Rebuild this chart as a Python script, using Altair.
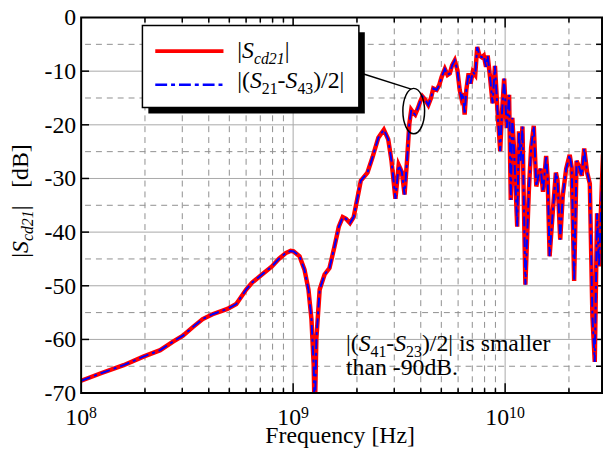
import altair as alt
import pandas as pd

FONT = "Liberation Serif"

# ---------------- data ----------------
freq_ghz = [0.100, 0.124, 0.1586, 0.1966, 0.236, 0.2714, 0.3021, 0.3363, 0.3745, 0.4169,
            0.4897, 0.5393, 0.6004, 0.6406, 0.7128, 0.794, 0.8557, 0.9227, 0.9734, 1.005,
            1.072, 1.131, 1.181, 1.220, 1.250, 1.264, 1.287, 1.334, 1.407, 1.484,
            1.567, 1.642, 1.714, 1.776, 1.854, 1.929, 2.014, 2.086, 2.242, 2.366,
            2.523, 2.679, 2.809, 2.910, 3.038, 3.147, 3.258, 3.354, 3.445, 3.531,
            3.607, 3.697, 3.765, 3.876, 3.972, 4.072, 4.192, 4.342, 4.470, 4.582,
            4.753, 4.887, 5.015, 5.196, 5.349, 5.483, 5.621, 5.785, 5.955, 6.105,
            6.218, 6.325, 6.441, 6.560, 6.725, 6.871, 7.042, 7.226, 7.384, 7.568,
            7.757, 7.925, 8.128, 8.270, 8.486, 8.726, 8.954, 9.207, 9.478, 9.652,
            9.893, 10.18, 10.44, 10.63, 10.81, 11.01, 11.40, 11.62, 11.84, 12.07,
            12.46, 12.94, 13.26, 13.65, 14.03, 14.40, 14.72, 15.09, 15.61, 15.87,
            16.21, 16.80, 17.35, 17.67, 18.19, 18.70, 19.40, 20.16, 20.60, 21.16,
            21.73, 22.37, 22.98, 23.60, 24.37, 25.09, 25.80, 26.47, 27.14, 27.73,
            28.42, 28.94]
s_cd21_db = [-67.7, -66.3, -64.8, -63.2, -62.0, -60.4, -59.3, -57.7, -56.2, -55.3,
             -54.3, -53.4, -50.7, -49.4, -47.9, -46.4, -45.0, -43.9, -43.5, -43.6,
             -44.5, -47.0, -50.7, -56.2, -64.8, -75.0, -59.9, -50.7, -47.9, -46.7,
             -42.7, -39.0, -37.2, -37.5, -38.3, -37.2, -33.5, -30.4, -28.9, -26.1,
             -22.4, -20.9, -22.7, -26.7, -33.8, -27.5, -28.8, -33.0, -26.7, -19.9,
             -17.2, -17.8, -18.1, -16.9, -15.7, -14.7, -15.3, -16.3, -15.0, -13.2,
             -13.5, -12.6, -11.1, -9.6, -10.7, -10.4, -8.9, -8.0, -9.8, -13.5,
             -15.0, -14.1, -18.1, -13.5, -10.4, -12.3, -10.1, -10.7, -5.5, -7.1,
             -7.4, -7.1, -9.2, -7.1, -11.1, -16.0, -9.0, -17.5, -24.9, -18.1,
             -11.4, -20.6, -14.4, -34.0, -18.7, -24.3, -39.0, -21.2, -26.7, -20.3,
             -49.8, -32.2, -24.3, -20.2, -31.5, -29.2, -28.2, -32.5, -25.8, -29.8,
             -44.5, -35.9, -28.9, -30.4, -41.4, -33.2, -28.2, -25.6, -27.9, -49.1,
             -26.7, -27.9, -29.5, -24.4, -28.9, -31.0, -55.6, -64.2, -36.5, -46.4,
             -34.1, -25.5]
s21_s43_db = list(s_cd21_db)   # the two curves coincide

y_ticks = [-70, -60, -50, -40, -30, -20, -10, 0]
y_tick_labels = ["-70", "-60", "-50", "-40", "-30", "-20", "-10", "0"]
y_major_grid = [-60, -50, -40, -30, -20, -10]
y_minor_grid = [-65, -55, -45, -35, -25, -15, -5]
y_right_ticks = [-65, -60, -55, -50, -45, -40, -35, -30, -25, -20, -15, -10, -5]
x_decades = [1e8, 1e9, 1e10]
x_exponents = ["8", "9", "10"]
x_major_grid = [1e9, 1e10]
x_minor_grid = [m * 1e8 for m in range(2, 10)] + [m * 1e9 for m in range(2, 10)] + [2e10]

# ---------------- layout ----------------
W, H = 527, 380
xs = alt.Scale(type="log", domain=[1e8, 2.864e10])
ys = alt.Scale(domain=[-70, 0])
one = pd.DataFrame({"a": [0]})

REG = {' ': 250, '(': 333, ')': 333, '-': 333, '.': 250, '/': 278, '[': 333, ']': 333,
       '|': 200, 'B': 667, 'H': 722, 'F': 556, 'S': 556, 'a': 444, 'c': 444, 'd': 500,
       'e': 444, 'h': 500, 'i': 278, 'l': 278, 'm': 778, 'n': 500, 'q': 500, 'r': 333,
       's': 389, 't': 278, 'u': 500, 'y': 500, 'z': 444}
ITAL = {'S': 500, 'c': 444, 'd': 500}


def text_runs(runs, x0, y0, fs, sub_fs, sub_dy, angle=None):
    out = []
    pos = 0.0
    for txt, ital, sub in runs:
        size = sub_fs if sub else fs
        table = ITAL if ital else REG
        lead = len(txt) - len(txt.lstrip(' '))
        pos += lead * REG[' '] * size / 1000
        core = txt.strip(' ')
        w = sum(table.get(ch, 500) for ch in core) * size / 1000
        if angle is None:
            x, y = x0 + pos, y0 + (sub_dy if sub else 0)
        else:
            x, y = x0 + (sub_dy if sub else 0), y0 - pos
        props = dict(align="left", baseline="alphabetic", font=FONT, fontSize=size,
                     color="black", text=core)
        if ital:
            props["fontStyle"] = "italic"
        if angle is not None:
            props["angle"] = angle
        out.append(alt.Chart(one).mark_text(**props).encode(x=alt.value(x), y=alt.value(y)))
        pos += w
    return out


layers = []
layers.append(alt.Chart(pd.DataFrame({"v": y_major_grid})).mark_rule(color="#a8a8a8", strokeWidth=1).encode(
    y=alt.Y("v:Q", scale=ys, axis=None)))
layers.append(alt.Chart(pd.DataFrame({"v": y_minor_grid})).mark_rule(color="#8f8f8f", strokeWidth=1, strokeDash=[6, 5]).encode(
    y=alt.Y("v:Q", scale=ys, axis=None)))
layers.append(alt.Chart(pd.DataFrame({"v": x_major_grid})).mark_rule(color="#a8a8a8", strokeWidth=1).encode(
    x=alt.X("v:Q", scale=xs, axis=None)))
layers.append(alt.Chart(pd.DataFrame({"v": x_minor_grid})).mark_rule(color="#8f8f8f", strokeWidth=1, strokeDash=[6, 5]).encode(
    x=alt.X("v:Q", scale=xs, axis=None)))

# inward ticks
layers.append(alt.Chart(pd.DataFrame({"v": y_major_grid})).mark_rule(color="black", strokeWidth=1.5).encode(
    y=alt.Y("v:Q", scale=ys, axis=None), x=alt.value(0), x2=alt.value(8)))
layers.append(alt.Chart(pd.DataFrame({"v": y_right_ticks})).mark_rule(color="black", strokeWidth=1.5).encode(
    y=alt.Y("v:Q", scale=ys, axis=None), x=alt.value(W - 6), x2=alt.value(W)))
xmaj = pd.DataFrame({"v": x_major_grid})
xmin = pd.DataFrame({"v": x_minor_grid})
for df_, ln in ((xmaj, 10), (xmin, 5)):
    layers.append(alt.Chart(df_).mark_rule(color="black", strokeWidth=1.5).encode(
        x=alt.X("v:Q", scale=xs, axis=None), y=alt.value(H - ln), y2=alt.value(H)))
    layers.append(alt.Chart(df_).mark_rule(color="black", strokeWidth=1.5).encode(
        x=alt.X("v:Q", scale=xs, axis=None), y=alt.value(0), y2=alt.value(ln)))

# curves
curve1 = pd.DataFrame({"f": [v * 1e9 for v in freq_ghz], "db": s_cd21_db})
curve2 = pd.DataFrame({"f": [v * 1e9 for v in freq_ghz], "db": s21_s43_db})
layers.append(alt.Chart(curve1).mark_line(color="#ff0000", strokeWidth=4.5, clip=True).encode(
    x=alt.X("f:Q", scale=xs, axis=None), y=alt.Y("db:Q", scale=ys, axis=None)))
layers.append(alt.Chart(curve2).mark_line(color="#0000ff", strokeWidth=2, strokeDash=[10, 4, 3, 4], clip=True).encode(
    x=alt.X("f:Q", scale=xs, axis=None), y=alt.Y("db:Q", scale=ys, axis=None)))

# frame
layers.append(alt.Chart(one).mark_rect(fillOpacity=0, stroke="black", strokeWidth=2).encode(
    x=alt.value(0), x2=alt.value(W), y=alt.value(0), y2=alt.value(H)))

# y tick labels
layers.append(alt.Chart(pd.DataFrame({"v": y_ticks, "t": y_tick_labels})).mark_text(
    align="right", baseline="middle", font=FONT, fontSize=24, color="black", dy=1).encode(
    y=alt.Y("v:Q", scale=ys, axis=None), x=alt.value(-5), text="t:N"))

# x tick labels 10^n
for v, e in zip(x_decades, x_exponents):
    total = 24 + len(e) * 8
    d = pd.DataFrame({"v": [v]})
    layers.append(alt.Chart(d).mark_text(align="left", baseline="alphabetic", font=FONT, fontSize=24,
                                         color="black", text="10", dx=-total / 2).encode(
        x=alt.X("v:Q", scale=xs, axis=None), y=alt.value(412)))
    layers.append(alt.Chart(d).mark_text(align="left", baseline="alphabetic", font=FONT, fontSize=16,
                                         color="black", text=e, dx=-total / 2 + 24).encode(
        x=alt.X("v:Q", scale=xs, axis=None), y=alt.value(405)))

# axis titles
layers.append(alt.Chart(one).mark_text(align="center", baseline="alphabetic", font=FONT, fontSize=24,
                                       color="black", text="Frequency [Hz]").encode(
    x=alt.value(262), y=alt.value(431)))
layers += text_runs([("|", False, False), ("S", True, False), ("cd21", True, True),
                     ("|", False, False), ("   [dB]", False, False)],
                    -54, 243, 24, 16, 5, angle=270)

# callout ellipse and line
ell = "M -0.478,0 A 0.478,1 0 1,1 0.478,0 A 0.478,1 0 1,1 -0.478,0 Z"
layers.append(alt.Chart(one).mark_point(shape=ell, size=2116, filled=False, stroke="black",
                                        strokeWidth=1.5, opacity=1).encode(
    x=alt.value(336.5), y=alt.value(94.7)))
layers.append(alt.Chart(one).mark_rule(color="black", strokeWidth=1.5).encode(
    x=alt.value(281), y=alt.value(55.7), x2=alt.value(334), y2=alt.value(72.5)))

# legend
layers.append(alt.Chart(one).mark_rect(color="black").encode(
    x=alt.value(68), x2=alt.value(287), y=alt.value(15), y2=alt.value(97)))
layers.append(alt.Chart(one).mark_rect(fill="white", stroke="black", strokeWidth=1.5).encode(
    x=alt.value(62), x2=alt.value(281), y=alt.value(8), y2=alt.value(91)))
layers.append(alt.Chart(one).mark_rule(color="#ff0000", strokeWidth=4).encode(
    x=alt.value(75), x2=alt.value(144), y=alt.value(34)))
layers.append(alt.Chart(one).mark_rule(color="#0000ff", strokeWidth=2.5, strokeDash=[12, 4, 4, 4]).encode(
    x=alt.value(75), x2=alt.value(144), y=alt.value(68)))
layers += text_runs([("|", False, False), ("S", True, False), ("cd21", True, True), ("|", False, False)],
                    158, 41, 24, 16, 6)
layers += text_runs([("|(", False, False), ("S", True, False), ("21", False, True), ("-", False, False),
                     ("S", True, False), ("43", False, True), (")/2|", False, False)],
                    158, 71, 24, 16, 6)

# annotation
layers += text_runs([("|(", False, False), ("S", True, False), ("41", False, True), ("-", False, False),
                     ("S", True, False), ("23", False, True), (")/2|", False, False),
                     (" is smaller", False, False)],
                    268, 337, 24, 16, 6)
layers += text_runs([("than -90dB.", False, False)], 268, 362, 24, 16, 6)

chart = alt.layer(*layers).properties(
    width=W, height=H,
    autosize=alt.AutoSizeParams(type="none"),
    padding={"left": 74, "top": 7, "right": 1, "bottom": 58},
    background="white",
).configure_view(stroke=None)

chart.save("out.html", embed_options={"renderer": "svg", "actions": False})
